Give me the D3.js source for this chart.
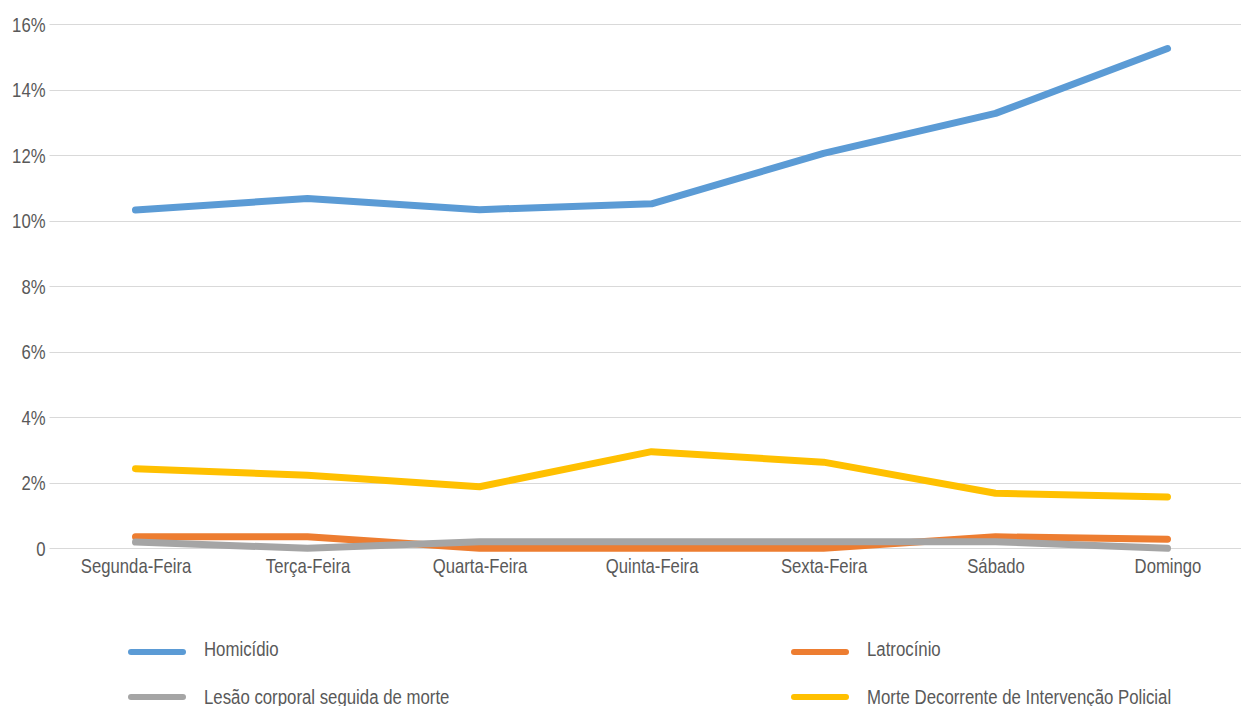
<!DOCTYPE html>
<html><head><meta charset="utf-8">
<script src="https://cdn.jsdelivr.net/npm/d3@7"></script>
<style>
html,body{margin:0;padding:0;background:#fff;overflow:hidden}
text{font-family:"Liberation Sans",Arial,sans-serif;fill:#595959;transform-box:fill-box}
.xl{transform-origin:center center;transform:scaleX(0.795)}
.yl{transform-origin:right center;transform:scaleX(0.795)}
.ll{transform-origin:left center;transform:scaleX(0.8)}
</style></head>
<body>
<svg id="chart" width="1241" height="706"></svg>
<script>
const categories = ["Segunda-Feira","Terça-Feira","Quarta-Feira","Quinta-Feira","Sexta-Feira","Sábado","Domingo"];
const seriesNames = ["Homicídio","Latrocínio","Lesão corporal seguida de morte","Morte Decorrente de Intervenção Policial"];
const homicidio = [10.33, 10.68, 10.34, 10.52, 12.06, 13.28, 15.26];
const latrocinio = [0.35, 0.35, 0.0, 0.0, 0.0, 0.35, 0.28];
const lesao = [0.19, 0.0, 0.2, 0.2, 0.2, 0.2, 0.0];
const morte = [2.43, 2.23, 1.88, 2.95, 2.63, 1.68, 1.57];
const yTicks = [0, 2, 4, 6, 8, 10, 12, 14, 16];
const colors = ["#5B9BD5","#ED7D31","#A5A5A5","#FFC000"];

const series = [homicidio, latrocinio, lesao, morte];
const svg = d3.select("#chart");
const plotLeft = 49.5, plotRight = 1253.5, plotTop = 24.3, plotBottom = 548.3;

const x = d3.scalePoint().domain(categories).range([plotLeft, plotRight]).padding(0.5);
const y = d3.scaleLinear().domain([0, 16]).range([plotBottom, plotTop]);

// gridlines
svg.append("g").selectAll("line").data(yTicks).join("line")
  .attr("x1", plotLeft).attr("x2", plotRight)
  .attr("y1", d => Math.round(y(d)) + 0.5).attr("y2", d => Math.round(y(d)) + 0.5)
  .attr("stroke", "#d9d9d9").attr("stroke-width", 1);

// y axis labels
const yAxis = d3.axisLeft(y).tickValues(yTicks).tickSize(0).tickPadding(4)
  .tickFormat(d => d === 0 ? "0" : d + "%");
const gy = svg.append("g").attr("transform", `translate(${plotLeft},0)`).call(yAxis);
gy.select(".domain").remove();
gy.selectAll("text").attr("class", "yl").style("font-size", "21px")
  .attr("fill", "#595959").attr("dy", "0.33em");

// x axis labels
const xAxis = d3.axisBottom(x).tickSize(0).tickPadding(10);
const gx = svg.append("g").attr("transform", `translate(0,${plotBottom})`).call(xAxis);
gx.select(".domain").remove();
gx.selectAll("text").attr("class", "xl").style("font-size", "21px").attr("fill", "#595959");
gx.attr("font-family", null); gy.attr("font-family", null);

// lines
const line = d3.line().x((d, i) => x(categories[i])).y(d => y(d));
svg.append("g").selectAll("path").data(series).join("path")
  .attr("d", d => line(d))
  .attr("fill", "none")
  .attr("stroke", (d, i) => colors[i])
  .attr("stroke-width", 7)
  .attr("stroke-linecap", "round")
  .attr("stroke-linejoin", "round");

// legend
const legendPos = [[131, 652], [794, 652], [131, 697], [794, 697]];
const textOffset = [-3, -3, 0, 0];
const lg = svg.append("g").selectAll("g").data(seriesNames).join("g")
  .attr("transform", (d, i) => `translate(${legendPos[i][0]},${legendPos[i][1]})`);
lg.append("line").attr("x1", 0).attr("x2", 52).attr("y1", 0).attr("y2", 0)
  .attr("stroke", (d, i) => colors[i]).attr("stroke-width", 6).attr("stroke-linecap", "round");
lg.append("text").attr("class", "ll").attr("x", 73).attr("y", (d, i) => textOffset[i]).attr("dy", "0.35em")
  .style("font-size", "21px").text(d => d);
</script>
</body></html>
